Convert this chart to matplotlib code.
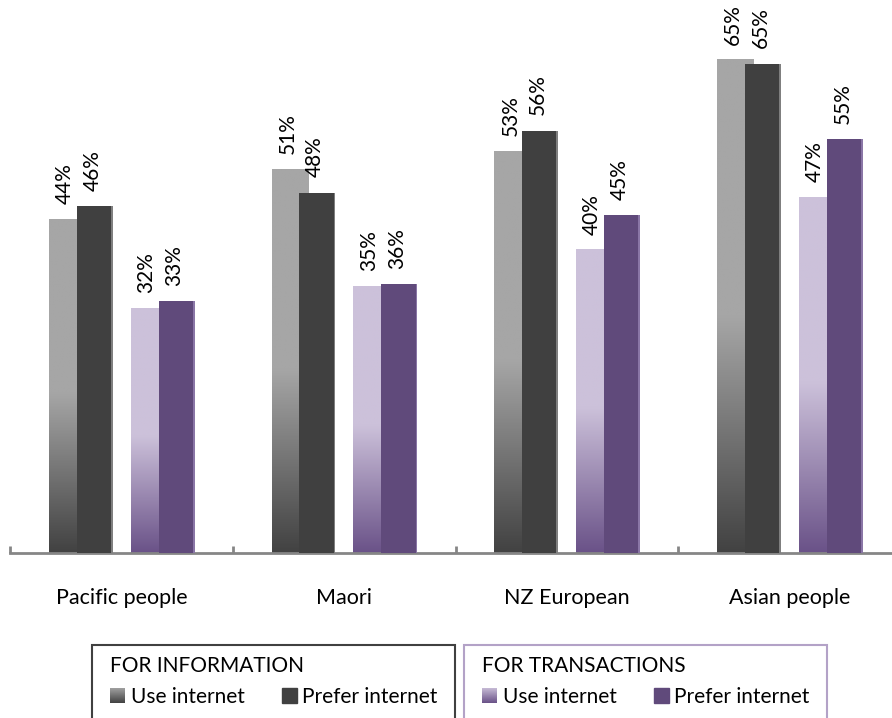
import matplotlib.pyplot as plt
import matplotlib.patches as mpatches
from matplotlib.colors import LinearSegmentedColormap
import numpy as np

plt.rcParams['font.family'] = ['Lato', 'DejaVu Sans']

# Survey shares (%) by ethnic group
groups = ['Pacific people', 'Maori', 'NZ European', 'Asian people']
info_use = [44.2, 50.9, 53.3, 65.4]
info_prefer = [46.0, 47.8, 56.0, 64.9]
trans_use = [32.4, 35.4, 40.2, 47.2]
trans_prefer = [33.4, 35.7, 44.8, 54.9]

GREY_TOP, GREY_BOT = '#a6a6a6', '#424242'
LAV_TOP, LAV_BOT = '#ccc1da', '#6a5288'
DARK = '#404040'
PURPLE = '#604a7b'

fig = plt.figure(figsize=(8.92, 7.18), dpi=100)
W, H = 892, 718
ax = fig.add_axes([10.2 / W, 165 / H, 890.8 / W, 527.8 / H])
ax.set_xlim(-0.5, 3.5)
ax.set_ylim(0, 70)

x = np.arange(len(groups))
width = 0.162
offs = [-0.245, -0.121, 0.122, 0.247]


def gradient_bar(xc, h, top, bot, z):
    # flat colour on top, fading to the darker tone over the lower ~48%
    n = 200
    t = np.linspace(0, 1, n)
    v = np.clip(t / 0.48, 0, 1)[:, None]
    cmap = LinearSegmentedColormap.from_list('g', [bot, top])
    ax.imshow(v, cmap=cmap, vmin=0, vmax=1, origin='lower', aspect='auto',
              extent=(xc - width / 2, xc + width / 2, 0, h), zorder=z,
              interpolation='bilinear')


def flat_bar(xc, h, color, edge, z):
    ax.bar(xc, h, width, color=color, zorder=z, linewidth=0)
    ax.bar(xc + width / 2 - 0.004, h, 0.008, color=edge, zorder=z, linewidth=0)


def label(xc, h):
    ax.annotate(f'{h:.0f}%', (xc, h), xytext=(-1.5, 11), textcoords='offset points',
                rotation=90, ha='center', va='bottom', fontsize=15, zorder=10)


for i in range(len(groups)):
    gradient_bar(x[i] + offs[0], info_use[i], GREY_TOP, GREY_BOT, 2)
    flat_bar(x[i] + offs[1], info_prefer[i], DARK, '#7f7f7f', 3)
    gradient_bar(x[i] + offs[2], trans_use[i], LAV_TOP, LAV_BOT, 2)
    flat_bar(x[i] + offs[3], trans_prefer[i], PURPLE, '#8a76a6', 3)
    label(x[i] + offs[0], info_use[i])
    label(x[i] + offs[1], info_prefer[i])
    label(x[i] + offs[2], trans_use[i])
    label(x[i] + offs[3], trans_prefer[i])

for s in ['top', 'right', 'left']:
    ax.spines[s].set_visible(False)
ax.spines['bottom'].set_color('#868686')
ax.spines['bottom'].set_linewidth(2)
ax.set_yticks([])
ax.set_xticks(np.arange(-0.5, 3.6, 1.0), minor=True)
ax.set_xticks(x)
ax.set_xticklabels(groups, fontsize=15.5)
ax.tick_params(axis='x', which='major', length=0, pad=25)
ax.tick_params(axis='x', which='minor', length=5, width=2, color='#868686',
               direction='in')

# legend: two framed boxes drawn in figure pixels
def fx(px):
    return px / W


def fy(py):
    return 1 - py / H


boxes = [
    (92, 455, '#404040', 'FOR INFORMATION', (GREY_TOP, GREY_BOT), DARK),
    (464, 827, '#b3a2c7', 'FOR TRANSACTIONS', (LAV_TOP, LAV_BOT), PURPLE),
]
for x0, x1, ec, title, (gt, gb), flat in boxes:
    fig.patches.append(mpatches.Rectangle((fx(x0), fy(730)), fx(x1 - x0), (730 - 645) / H,
                                          transform=fig.transFigure, fill=False,
                                          edgecolor=ec, linewidth=1.5))
    fig.text(fx(x0 + 18), fy(672), title, fontsize=15, va='baseline')
    # gradient swatch
    sw = fig.add_axes([fx(x0 + 18), fy(703), 15 / W, 15 / H])
    sw.imshow(np.linspace(0, 1, 50)[:, None], origin='lower', aspect='auto',
              cmap=LinearSegmentedColormap.from_list('s', [gb, gt]))
    sw.axis('off')
    fig.text(fx(x0 + 39), fy(703), 'Use internet', fontsize=15, va='baseline')
    fig.patches.append(mpatches.Rectangle((fx(x0 + 190), fy(703)), 15 / W, 15 / H,
                                          transform=fig.transFigure, color=flat))
    fig.text(fx(x0 + 210), fy(703), 'Prefer internet', fontsize=15, va='baseline')

fig.savefig('out.png', dpi=100)
